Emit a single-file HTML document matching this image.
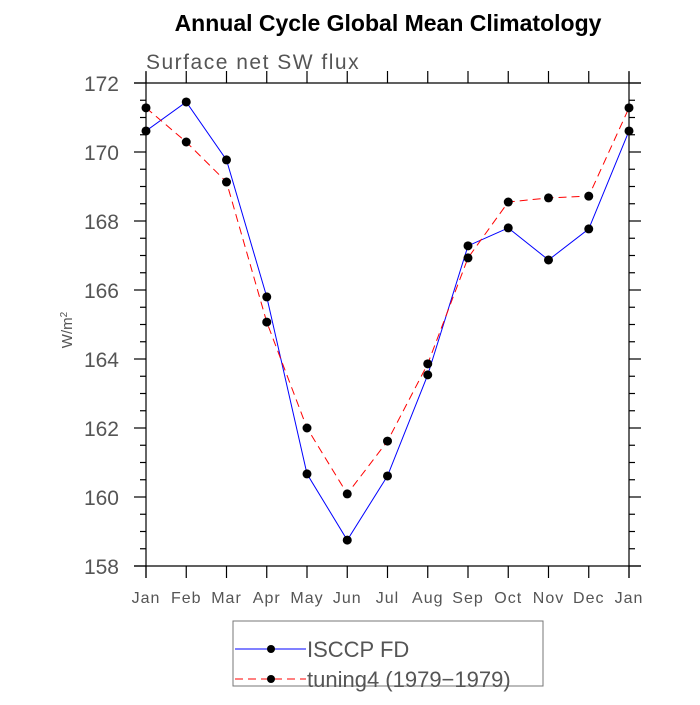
<!DOCTYPE html>
<html><head><meta charset="utf-8"><style>
body{margin:0;background:#fff;width:700px;height:700px;overflow:hidden}
svg text{font-family:"Liberation Sans",sans-serif}
</style></head><body>
<svg id="chart" width="700" height="700">
<text x="388" y="31" text-anchor="middle" font-size="23" font-weight="bold" fill="#000">Annual Cycle Global Mean Climatology</text>
<text x="146" y="69" font-size="21" fill="#555" letter-spacing="1.5">Surface net SW flux</text>
<text x="72" y="330" font-size="15" fill="#555" text-anchor="middle" transform="rotate(-90 72 330)">W/m<tspan baseline-shift="super" font-size="10">2</tspan></text>
<g id="axes"></g>
<g id="series"></g>
<g>
<rect x="233" y="621" width="310" height="65" fill="none" stroke="#777" stroke-width="1"/>
<g>
<line x1="235" y1="649" x2="306" y2="649" stroke="#0000ff" stroke-width="1"/>
<circle cx="271" cy="649" r="4" fill="#000"/>
<text x="307" y="657" font-size="22" fill="#555">ISCCP FD</text></g>
<g>
<line x1="235" y1="679" x2="306" y2="679" stroke="#ff0000" stroke-width="1" stroke-dasharray="8,5"/>
<circle cx="271" cy="679" r="4" fill="#000"/>
<text x="307" y="687" font-size="22" fill="#555">tuning4 (1979−1979)</text></g>
</g>
</svg>
<script>
const months=["Jan","Feb","Mar","Apr","May","Jun","Jul","Aug","Sep","Oct","Nov","Dec","Jan"];
const yTicks=[158,160,162,164,166,168,170,172];
const isccp=[170.61,171.45,169.77,165.80,160.67,158.75,160.61,163.54,167.28,167.80,166.87,167.77,170.61];
const tuning4=[171.28,170.29,169.13,165.07,162.0,160.09,161.62,163.86,166.93,168.55,168.67,168.72,171.28];
const X0=146,X1=629,Y0=566,Y1=83,YMIN=158,YMAX=172;
const xs=i=>X0+(X1-X0)*i/(months.length-1);
const ys=v=>Y0-(v-YMIN)/(YMAX-YMIN)*(Y0-Y1);
const NS="http://www.w3.org/2000/svg";
function mk(t,a,p){const e=document.createElementNS(NS,t);for(const k in a)e.setAttribute(k,a[k]);p.appendChild(e);return e;}
const ax=document.getElementById('axes'),sr=document.getElementById('series');
const st={stroke:"#000","stroke-width":1.2};
mk('line',{x1:134,y1:Y0,x2:641,y2:Y0,...st},ax);
mk('line',{x1:134,y1:Y1,x2:641,y2:Y1,...st},ax);
mk('line',{x1:X0,y1:72,x2:X0,y2:578,...st},ax);
mk('line',{x1:X1,y1:72,x2:X1,y2:578,...st},ax);
months.forEach((m,i)=>{const x=xs(i);
mk('line',{x1:x,y1:Y0,x2:x,y2:Y0+12,...st},ax);
mk('line',{x1:x,y1:Y1,x2:x,y2:Y1-12,...st},ax);
const t=mk('text',{x:x,y:603,"font-size":16,fill:"#555","text-anchor":"middle","letter-spacing":"1"},ax);


t.textContent=m;});
for(let v=YMIN;v<=YMAX+1e-9;v+=0.5){const y=ys(v);const maj=Math.abs(v-Math.round(v/2)*2)<1e-6;const L=maj?12:6;
mk('line',{x1:X0-L,y1:y,x2:X0,y2:y,...st},ax);
mk('line',{x1:X1,y1:y,x2:X1+L,y2:y,...st},ax);}
yTicks.forEach(v=>{const t=mk('text',{x:119,y:ys(v)+8,"font-size":21,fill:"#555","text-anchor":"end"},ax);


t.textContent=v;});
function draw(vals,color,dash,name){
const p=mk('polyline',{points:vals.map((v,i)=>xs(i)+","+ys(v)).join(" "),fill:"none",stroke:color,"stroke-width":1,"stroke-dasharray":dash},sr);


vals.forEach((v,i)=>{const c=mk('circle',{cx:xs(i),cy:ys(v),r:4.5,fill:"#000"},sr);

});}
draw(isccp,"#0000ff","none","isccp");
draw(tuning4,"#ff0000","8,5","tuning4");
</script>
</body></html>
